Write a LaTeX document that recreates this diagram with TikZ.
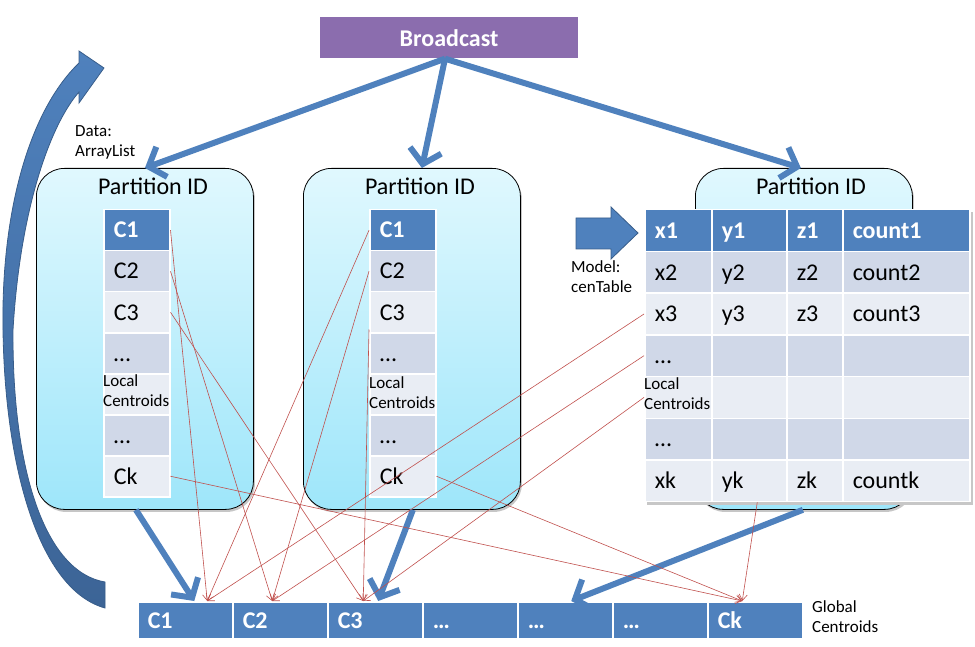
\documentclass[tikz,border=0pt]{standalone}
\usepackage{fontspec}
\setmainfont{Carlito}
\usetikzlibrary{positioning, arrows.meta, shadows, calc}

\definecolor{cellBlue}{HTML}{4F81BD}
\definecolor{rowDark}{HTML}{D0D8E8}
\definecolor{rowLight}{HTML}{E9EDF4}
\definecolor{bcPurple}{HTML}{8B6DAE}
\definecolor{redLine}{HTML}{C0504D}
\definecolor{boxTop}{HTML}{E0F8FE}
\definecolor{boxBottom}{HTML}{9EE6FA}
\definecolor{arrowEdge}{HTML}{385D8A}
\definecolor{arrowDark}{HTML}{3C6496}

\begin{document}
\begin{tikzpicture}[x=1pt, y=-1pt,
	partBox/.style={draw=black, line width=0.8pt, rounded corners=28pt, top color=boxTop, bottom color=boxBottom,
		minimum width=217pt, minimum height=341pt, anchor=north west, inner sep=0pt,
		drop shadow={shadow xshift=1.5pt, shadow yshift=-2.5pt, opacity=0.45}},
	partTitle/.style={anchor=base, inner sep=0pt, font=\fontsize{24}{28}\selectfont},
	colCell/.style={anchor=north west, draw=white, line width=1.5pt, minimum width=66pt, minimum height=41pt,
		text width=46pt, inner xsep=10pt, inner ysep=0pt, text height=15.5pt, text depth=0pt,
		font=\fontsize{24}{28}\selectfont},
	tCell/.style={anchor=north west, draw=white, line width=1.5pt, minimum height=41.7pt, inner xsep=10pt,
		inner ysep=0pt, text height=15.5pt, text depth=0pt, font=\fontsize{24}{28}\selectfont},
	colA/.style={minimum width=67pt, text width=47pt},
	colB/.style={minimum width=75pt, text width=55pt},
	colC/.style={minimum width=56pt, text width=36pt},
	colD/.style={minimum width=127pt, text width=107pt},
	gCell/.style={anchor=north west, fill=cellBlue, draw=white, line width=1.5pt, minimum width=95pt,
		minimum height=37pt, text width=75pt, inner xsep=10pt, inner ysep=0pt, text height=16pt,
		text depth=0pt, text=white, font=\bfseries\fontsize{24}{28}\selectfont},
	noteText/.style={font=\fontsize{17}{20}\selectfont, align=left, inner sep=0pt},
	bigArrow/.style={draw=cellBlue, line width=6pt, -{Straight Barb[length=14pt, width=32pt]}},
	redArrow/.style={draw=redLine, line width=0.6pt, -{Straight Barb[length=6pt, width=8pt]}}
	]
	
	\useasboundingbox (0,0) rectangle (975,647);
	
	%Broadcast box
	\node[fill=bcPurple, minimum width=258pt, minimum height=41pt, text=white,
		font=\bfseries\fontsize{24}{28}\selectfont] (bcast) at (449,38) {Broadcast};
	
	%Curved arrow going back up
	\draw[arrowEdge, line width=0.8pt, top color=cellBlue, bottom color=arrowDark]
		(105,608) .. controls (40,590) and (5,470) .. (3,330)
		.. controls (1,210) and (30,110) .. (79,63)
		-- (79,51) -- (104,68) -- (79,103) -- (79,92)
		.. controls (50,125) and (20,210) .. (13,330)
		.. controls (12,470) and (45,572) .. (105,582) -- cycle;
	
	%Partition boxes
	\node[partBox] (pl) at (36,168) {};
	\node[partBox] (pm) at (303,168) {};
	\node[partBox] (pr) at (695,168) {};
	\node[partTitle] (plTitle) at (153,195) {Partition ID};
	\node[partTitle] (pmTitle) at (420,195) {Partition ID};
	\node[partTitle] (prTitle) at (811,195) {Partition ID};
	
	%Data label
	\node[noteText, anchor=north west] (dataLbl) at (75,125) {Data:\\ArrayList};
	
	%Local centroids of the first two partitions
	\foreach \txt/\fc/\tc [count=\i] in {\textbf{C1}/cellBlue/white, C2/rowDark/black, C3/rowLight/black,
		\ldots/rowDark/black, {}/rowLight/black, \ldots/rowDark/black, Ck/rowLight/black}
	{
		\node[colCell, fill=\fc, text=\tc] (lc\i) at (103,{209+41*(\i-1)}) {\txt};
		\node[colCell, fill=\fc, text=\tc] (mc\i) at (369,{209+41*(\i-1)}) {\txt};
	}
	\node[noteText, anchor=west] (lcLbl) at ([yshift=4pt]lc5.west) {Local\\Centroids};
	\node[noteText, anchor=west] (mcLbl) at ([yshift=2pt]mc5.west) {Local\\Centroids};
	
	%Model arrow
	\draw[arrowEdge, line width=0.8pt, fill=cellBlue] (576,218) -- (611,218) -- (611,207) -- (638,233)
		-- (611,259) -- (611,249) -- (576,249) -- cycle;
	\node[noteText, anchor=north west] (modelLbl) at (571,260) {Model:\\cenTable};
	
	%cenTable of the third partition
	\fill[black!22] (647,212) rectangle (973,505);
	\foreach \fc/\tc/\ca/\cb/\cc/\cd [count=\r] in {cellBlue/white/\textbf{x1}/\textbf{y1}/\textbf{z1}/\textbf{count1},
		rowDark/black/x2/y2/z2/count2, rowLight/black/x3/y3/z3/count3, rowDark/black/\ldots/{}/{}/{},
		rowLight/black/{}/{}/{}/{}, rowDark/black/\ldots/{}/{}/{}, rowLight/black/xk/yk/zk/countk}
	{
		\node[tCell, colA, fill=\fc, text=\tc] (t\r-1) at (644,{209+41.7*(\r-1)}) {\ca};
		\node[tCell, colB, fill=\fc, text=\tc] (t\r-2) at (711,{209+41.7*(\r-1)}) {\cb};
		\node[tCell, colC, fill=\fc, text=\tc] (t\r-3) at (786,{209+41.7*(\r-1)}) {\cc};
		\node[tCell, colD, fill=\fc, text=\tc] (t\r-4) at (842,{209+41.7*(\r-1)}) {\cd};
	}
	\node[noteText, anchor=west] (tLbl) at ([yshift=4pt]t5-1.west) {Local\\Centroids};
	
	%Global centroids
	\foreach \txt [count=\i] in {C1,C2,C3,\ldots,\ldots,\ldots,Ck}
		\node[gCell] (g\i) at ({137+95*(\i-1)},601) {\txt};
	\node[noteText, anchor=north west] (gLbl) at (812,600) {Global\\Centroids};
	
	%Broadcast arrows
	\draw[bigArrow] ([xshift=-4pt]bcast.south) -- (pl.north);
	\draw[bigArrow] ([xshift=-4pt]bcast.south) -- ([xshift=10pt]pm.north);
	\draw[bigArrow] ([xshift=-4pt]bcast.south) -- ([xshift=-3pt]pr.north);
	
	%Reduce arrows
	\draw[bigArrow] ([xshift=-9pt]pl.south) -- ([xshift=9pt]g1.north);
	\draw[bigArrow] ([xshift=1pt]pm.south) -- ([xshift=3pt]g3.north);
	\draw[bigArrow] ([xshift=-1pt]pr.south) -- ([xshift=6pt]g5.north);
	
	%Targets on the global centroids
	\coordinate (gt1) at ([xshift=22pt]g1.north);
	\coordinate (gt2) at ([xshift=-8pt]g2.north);
	\coordinate (gt3) at ([xshift=-12pt]g3.north);
	\coordinate (gtk) at ([xshift=-13pt]g7.north);
	
	%Red connectors
	\draw[redArrow] (lc1.east) -- (gt1);
	\draw[redArrow] (lc2.east) -- (gt2);
	\draw[redArrow] (lc3.east) -- (gt3);
	\draw[redArrow] (lc7.east) -- (gtk);
	\draw[redArrow] (mc1.west) -- (gt1);
	\draw[redArrow] (mc2.west) -- (gt2);
	\draw[redArrow] ([yshift=4pt]mc3.south west) -- (gt3);
	\draw[redArrow] (mc7.east) -- (gtk);
	\draw[redArrow] (t3-1.west) -- (gt1);
	\draw[redArrow] (t4-1.west) -- (gt2);
	\draw[redArrow] (t5-1.west) -- (gt3);
	\draw[redArrow] ([xshift=8pt]t7-2.south) -- (gtk);
	
\end{tikzpicture}
\end{document}
